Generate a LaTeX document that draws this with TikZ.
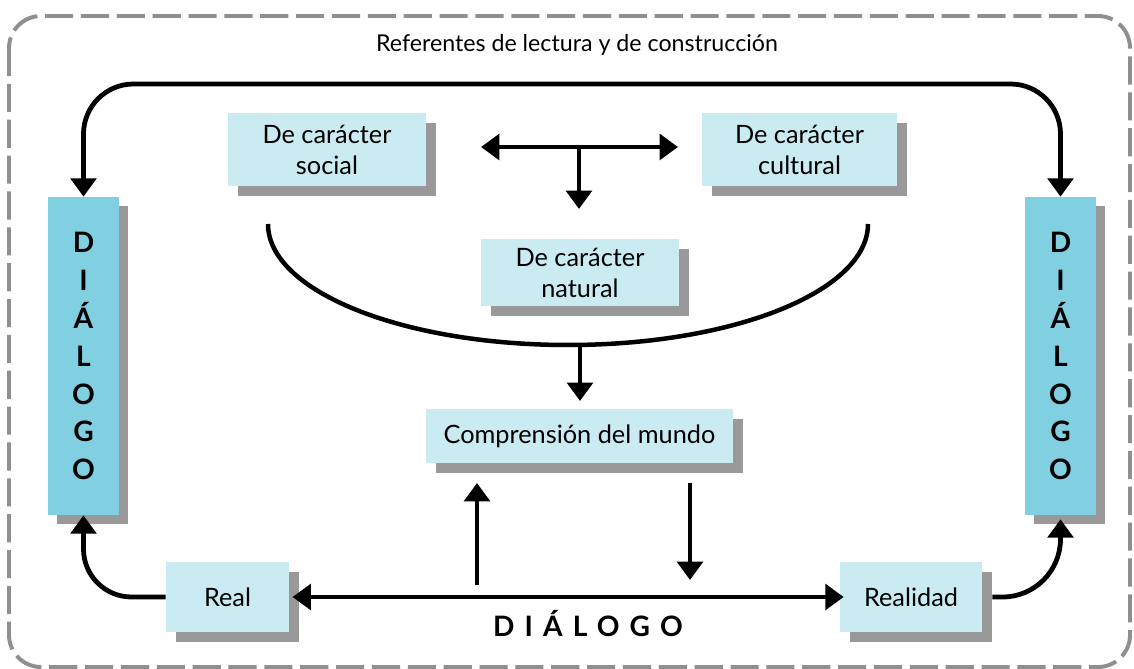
\documentclass[tikz,border=0pt]{standalone}
\usepackage{fontspec}
\setmainfont{Lato}
\usepackage{tikz}
\usetikzlibrary{arrows.meta,positioning,shadows}

\definecolor{boxlight}{HTML}{CBEBF2}
\definecolor{boxdark}{HTML}{80D0E1}
\definecolor{shade}{HTML}{999999}
\definecolor{frame}{HTML}{8F8F8F}

\tikzset{
  idea/.style={fill=boxlight, align=center, inner sep=0pt, font=\fontsize{18}{22}\selectfont,
    drop shadow={shadow xshift=0.25cm, shadow yshift=-0.25cm, fill=shade, opacity=1}},
  talk/.style={fill=boxdark, align=center, inner sep=0pt, minimum width=1.775cm, minimum height=7.95cm,
    font=\bfseries\fontsize{20}{27}\selectfont,
    drop shadow={shadow xshift=0.22cm, shadow yshift=-0.22cm, fill=shade, opacity=1}},
  link/.style={line width=3.4pt, -{Triangle[length=13pt,width=18pt]}},
  both/.style={line width=3.4pt, {Triangle[length=13pt,width=18pt]}-{Triangle[length=13pt,width=18pt]}}
}

\begin{document}
\begin{tikzpicture}[x=0.025cm, y=-0.025cm]
  \useasboundingbox (0,0) rectangle (1134,669);
  \draw[frame, line width=2.8pt, dash pattern=on 20pt off 5.5pt, rounded corners=0.8cm]
    (9,16) rectangle (1130,667);

  \node[font=\fontsize{16.5}{20}\selectfont] (title) at (577,45) {Referentes de lectura y de construcción};

  % recuadros
  \node[idea, minimum width=4.95cm, minimum height=1.825cm] (social) at (327,149.5) {De carácter\\social};
  \node[idea, minimum width=4.875cm, minimum height=1.825cm] (cultural) at (799.5,149.5) {De carácter\\cultural};
  \node[idea, minimum width=4.95cm, minimum height=1.675cm] (natural) at (580,272.5) {De carácter\\natural};
  \node[idea, minimum width=7.675cm, minimum height=1.35cm] (mundo) at (579.5,436) {Comprensión del mundo};
  \node[idea, minimum width=3.075cm, minimum height=1.75cm] (real) at (227.5,597) {Real};
  \node[idea, minimum width=3.55cm, minimum height=1.75cm] (realidad) at (911,597) {Realidad};
  \node[talk] (dleft) at (83.5,356) {D\\I\\Á\\L\\O\\G\\O};
  \node[talk] (dright) at (1060.5,356) {D\\I\\Á\\L\\O\\G\\O};
  \node[font=\bfseries\fontsize{20}{24}\selectfont\addfontfeatures{LetterSpace=36}] (dbottom) at (588,624) {DIÁLOGO};

  % flechas
  \draw[both, rounded corners=1.25cm] (dleft.north) |- (579,84) -| (dright.north);

  \coordinate (hl) at (481,147);
  \coordinate (hr) at (678,147);
  \coordinate (hm) at (579,147);
  \draw[both] (hl) -- (hr);
  \draw[link] (hm) -- (579,209);

  \coordinate (uleft) at (268,224);
  \coordinate (ubot) at (568,345);
  \coordinate (uright) at (868,224);
  \draw[line width=3.2pt] (uleft) .. controls (268,291) and (402,345) .. (ubot)
    .. controls (734,345) and (868,291) .. (uright);
  \draw[link] (580,345) -- (580,401);

  \draw[link] (477,585) -- (477,483);
  \draw[link] (690,483) -- (690,580);

  \draw[both] ([xshift=0.08cm]real.east) -- ([xshift=0.1cm]realidad.west);
  \draw[link, rounded corners=1.2cm] (real.west) -| (dleft.south);
  \draw[link, rounded corners=1.45cm] ([xshift=0.25cm]realidad.east) -| ([yshift=-0.1cm]dright.south);
\end{tikzpicture}
\end{document}
